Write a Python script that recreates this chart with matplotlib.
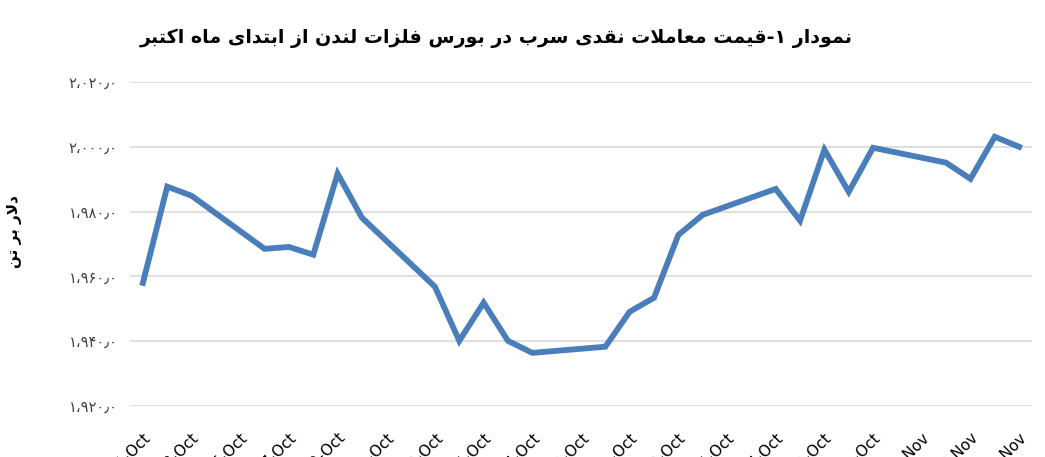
import matplotlib
matplotlib.use("Agg")
import matplotlib.pyplot as plt
import matplotlib.dates as mdates
import numpy as np
import pandas as pd

# trading days (Oct 2014 - early Nov), London lead cash price, USD/t
dates = [
    "2014-10-01", "2014-10-02", "2014-10-03",
    "2014-10-06", "2014-10-07", "2014-10-08", "2014-10-09", "2014-10-10",
    "2014-10-13", "2014-10-14", "2014-10-15", "2014-10-16", "2014-10-17",
    "2014-10-20", "2014-10-21", "2014-10-22", "2014-10-23", "2014-10-24",
    "2014-10-27", "2014-10-28", "2014-10-29", "2014-10-30", "2014-10-31",
    "2014-11-03", "2014-11-04", "2014-11-05", "2014-11-06",
]
prices = [
    1958.0, 1987.7, 1984.9,
    1968.5, 1969.1, 1966.7, 1991.7, 1978.1,
    1956.8, 1940.1, 1951.9, 1940.1, 1936.4,
    1938.3, 1949.1, 1953.4, 1972.8, 1979.0,
    1987.0, 1977.2, 1999.1, 1986.1, 1999.7,
    1995.1, 1990.1, 2003.1, 2000.0,
]
y_ticks = [1920, 1940, 1960, 1980, 2000, 2020]

title = "نمودار ۱-قیمت معاملات نقدی سرب در بورس فلزات لندن از ابتدای ماه اکتبر"
ylabel = "دلار بر تن"

# minimal arabic shaping (no reshaper lib available): isolated, final, initial, medial
FORMS = {
    "ا": ("\uFE8D", "\uFE8E", None, None),
    "ب": ("\uFE8F", "\uFE90", "\uFE91", "\uFE92"),
    "ت": ("\uFE95", "\uFE96", "\uFE97", "\uFE98"),
    "د": ("\uFEA9", "\uFEAA", None, None),
    "ر": ("\uFEAD", "\uFEAE", None, None),
    "ز": ("\uFEAF", "\uFEB0", None, None),
    "س": ("\uFEB1", "\uFEB2", "\uFEB3", "\uFEB4"),
    "ع": ("\uFEC9", "\uFECA", "\uFECB", "\uFECC"),
    "ف": ("\uFED1", "\uFED2", "\uFED3", "\uFED4"),
    "ق": ("\uFED5", "\uFED6", "\uFED7", "\uFED8"),
    "ل": ("\uFEDD", "\uFEDE", "\uFEDF", "\uFEE0"),
    "م": ("\uFEE1", "\uFEE2", "\uFEE3", "\uFEE4"),
    "ن": ("\uFEE5", "\uFEE6", "\uFEE7", "\uFEE8"),
    "ه": ("\uFEE9", "\uFEEA", "\uFEEB", "\uFEEC"),
    "و": ("\uFEED", "\uFEEE", None, None),
    "ک": ("\uFB8E", "\uFB8F", "\uFB90", "\uFB91"),
    "ی": ("\uFBFC", "\uFBFD", "\uFBFE", "\uFBFF"),
}


def shape(text):
    res = []
    n = len(text)
    for i, c in enumerate(text):
        if c not in FORMS:
            res.append(c)
            continue
        if c == "ا" and i > 0 and text[i - 1] == "ل":
            continue
        prev = text[i - 1] if i > 0 else None
        nxt = text[i + 1] if i + 1 < n else None
        join_prev = prev in FORMS and FORMS[prev][2] is not None
        if c == "ل" and nxt == "ا":
            res.append("\uFEFC" if join_prev else "\uFEFB")
            continue
        join_next = FORMS[c][2] is not None and nxt in FORMS
        f = FORMS[c]
        if join_prev and join_next:
            res.append(f[3])
        elif join_prev:
            res.append(f[1])
        elif join_next:
            res.append(f[2])
        else:
            res.append(f[0])
    return "".join(reversed(res))


FA_DIGITS = str.maketrans("0123456789", "۰۱۲۳۴۵۶۷۸۹")


def fa_number(v, pos=None):
    s = f"{int(round(v)):,}".replace(",", "،") + "٫0"
    return s.translate(FA_DIGITS)


x = pd.to_datetime(dates)
tick_dates = pd.date_range("2014-10-01", "2014-11-06", freq="2D")

fig = plt.figure(figsize=(10.45, 4.57), dpi=100)
ax = fig.add_axes([130 / 1045, 1 - 406 / 457, 902 / 1045, 324 / 457])

ax.plot(x, prices, color="#4a7ebb", linewidth=4.2, solid_joinstyle="miter")

ax.set_ylim(1920, 2020)
ax.set_yticks(y_ticks)
ax.yaxis.set_major_formatter(plt.FuncFormatter(fa_number))
x0 = mdates.date2num(x[0]) - 0.53
x1 = mdates.date2num(x[-1]) + 0.53
ax.set_xlim(x0, x1)
ax.set_xticks(tick_dates)
ax.set_xticklabels([f"{d.day}-{d.strftime('%b')}" for d in tick_dates],
                   rotation=45, ha="right", rotation_mode="anchor",
                   fontsize=11)

ax.grid(axis="y", color="#d9d9d9", linewidth=1.2)
ax.set_axisbelow(True)
ax.tick_params(axis="both", length=0)
ax.tick_params(axis="y", labelsize=10.5, pad=9, labelcolor="#404040")
ax.tick_params(axis="x", pad=17)
for s in ax.spines.values():
    s.set_visible(False)

fig.text(496 / 1045, 1 - 38 / 457, shape(title), ha="center", va="center",
         fontsize=13.7, fontweight="bold")
fig.text(15 / 1045, 1 - 232 / 457, shape(ylabel), ha="center", va="center",
         rotation=90, fontsize=11, fontweight="bold")

fig.savefig("out.png", dpi=100)
